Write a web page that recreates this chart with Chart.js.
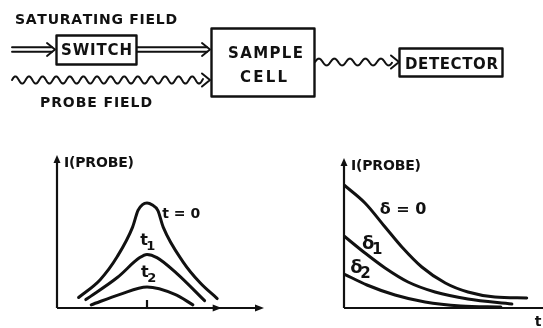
<!DOCTYPE html>
<html>
<head>
<meta charset="utf-8">
<script src="https://cdn.jsdelivr.net/npm/chart.js@4/dist/chart.umd.min.js"></script>
<style>
  html, body { margin: 0; padding: 0; background: #fff; }
  #wrap { position: relative; width: 543px; height: 328px; overflow: hidden; background: #fff; }
  canvas { position: absolute; }
</style>
</head>
<body>
<div id="wrap">
  <canvas id="diagram" width="543" height="140" style="left:0;top:0"></canvas>
  <canvas id="lineShape" width="280" height="188" style="left:0;top:140px"></canvas>
  <canvas id="decay" width="263" height="188" style="left:280px;top:140px"></canvas>
</div>
<script>
// --- Data: left panel, probe intensity vs detuning at t = 0, t1, t2 ---
const detuningT0 = [-0.76, -0.52, -0.33, -0.16, -0.1, -0.05, 0, 0.06, 0.12, 0.18, 0.4, 0.59, 0.78];
const probeT0    = [0.10, 0.27, 0.49, 0.77, 0.93, 0.985, 1.0, 0.98, 0.93, 0.77, 0.44, 0.24, 0.09];
const detuningT1 = [-0.68, -0.33, -0.08, 0, 0.11, 0.33, 0.64];
const probeT1    = [0.08, 0.29, 0.48, 0.51, 0.48, 0.33, 0.07];
const detuningT2 = [-0.62, -0.3, 0, 0.31, 0.51];
const probeT2    = [0.03, 0.13, 0.2, 0.13, 0.03];

// --- Data: right panel, probe intensity vs time at delta = 0, delta1, delta2 ---
const timeD0  = [0, 0.116, 0.227, 0.32, 0.43, 0.56, 0.685, 0.834, 1.01];
const probeD0 = [1.23, 1.05, 0.81, 0.61, 0.41, 0.25, 0.16, 0.11, 0.10];
const timeD1  = [0, 0.116, 0.227, 0.354, 0.503, 0.685, 0.928];
const probeD1 = [0.72, 0.55, 0.40, 0.26, 0.16, 0.09, 0.04];
const timeD2  = [0, 0.127, 0.282, 0.448, 0.646, 0.867];
const probeD2 = [0.34, 0.23, 0.13, 0.06, 0.02, 0.01];

// --- Text ---
const AXIS_Y_LABEL = 'I(PROBE)';
const AXIS_X_LEFT = 'PROBE DETUNING,';
const AXIS_X_RIGHT = 't';

const INK = '#111';
const FONT = '"DejaVu Sans", sans-serif';

// --- Drawing helpers ---
function spaced(ctx, str, x0, x1, base, size) {
  ctx.font = 'bold ' + size + 'px ' + FONT;
  const chars = [...str];
  const widths = chars.map(c => ctx.measureText(c).width);
  const total = widths.reduce((s, w) => s + w, 0);
  const gap = chars.length > 1 ? (x1 - x0 - total) / (chars.length - 1) : 0;
  let x = x0;
  chars.forEach((c, i) => { ctx.fillText(c, x, base); x += widths[i] + gap; });
}
function seg(ctx, xa, ya, xb, yb) {
  ctx.beginPath(); ctx.moveTo(xa, ya); ctx.lineTo(xb, yb); ctx.stroke();
}
function chevron(ctx, tip, y, len, half) {
  ctx.beginPath();
  ctx.moveTo(tip - len, y - half); ctx.lineTo(tip, y); ctx.lineTo(tip - len, y + half);
  ctx.stroke();
}
function doubleArrow(ctx, x0, tip, y) {
  seg(ctx, x0, y - 2.2, tip - 3, y - 2.2);
  seg(ctx, x0, y + 2.2, tip - 3, y + 2.2);
  chevron(ctx, tip, y, 8, 6.5);
}
function wave(ctx, x0, x1, yc, amp, period) {
  ctx.beginPath();
  for (let x = x0; x <= x1; x += 0.5) {
    const y = yc - amp * Math.sin((x - x0) / period * 2 * Math.PI);
    if (x === x0) ctx.moveTo(x, y); else ctx.lineTo(x, y);
  }
  ctx.stroke();
}
function filledHead(ctx, x, y, dir) {
  ctx.beginPath();
  if (dir === 'up') { ctx.moveTo(x, y); ctx.lineTo(x - 3.5, y + 8); ctx.lineTo(x + 3.5, y + 8); }
  else { ctx.moveTo(x, y); ctx.lineTo(x - 9, y - 3.5); ctx.lineTo(x - 9, y + 3.5); }
  ctx.closePath(); ctx.fill();
}

// --- Block diagram ---
const blockDiagram = {
  id: 'blockDiagram',
  afterDraw(chart) {
    const ctx = chart.ctx;
    ctx.save();
    ctx.strokeStyle = INK; ctx.fillStyle = INK;
    ctx.lineWidth = 2.4; ctx.lineJoin = 'round'; ctx.lineCap = 'round';
    ctx.textBaseline = 'alphabetic';

    spaced(ctx, 'SATURATING FIELD', 15, 177, 23.5, 14);
    spaced(ctx, 'PROBE FIELD', 40, 152, 106.5, 14);

    ctx.strokeRect(56.5, 35.5, 80, 29);
    spaced(ctx, 'SWITCH', 61, 132, 55, 15);
    ctx.strokeRect(211.5, 28.5, 103, 68);
    spaced(ctx, 'SAMPLE', 228, 303, 58, 15);
    spaced(ctx, 'CELL', 240, 287, 82, 15);
    ctx.strokeRect(399.5, 48.5, 103, 28);
    spaced(ctx, 'DETECTOR', 405, 498, 68.5, 15);

    ctx.lineWidth = 1.9;
    doubleArrow(ctx, 12, 55, 49.5);
    doubleArrow(ctx, 137, 210, 49.5);
    ctx.lineWidth = 2;
    wave(ctx, 12, 203, 80, 3.6, 13.6);
    chevron(ctx, 210, 80, 8, 6.5);
    wave(ctx, 315, 392, 62, 3.4, 15.5);
    chevron(ctx, 399, 62, 8, 6.5);
    ctx.restore();
  }
};

// --- Axes with arrows and curve labels for the two panels ---
const panelAxes = {
  id: 'panelAxes',
  afterDatasetsDraw(chart, args, opts) {
    const { ctx, chartArea: a, scales: { x, y } } = chart;
    const x0 = x.getPixelForValue(x.min);
    const y0 = y.getPixelForValue(0);
    ctx.save();
    ctx.strokeStyle = INK; ctx.fillStyle = INK; ctx.lineWidth = 2.2;
    seg(ctx, x0, y0, x0, a.top + 6);
    filledHead(ctx, x0, a.top, 'up');
    if (opts.arrowRight) {
      seg(ctx, x0, y0, a.right - 6, y0);
      filledHead(ctx, a.right, y0, 'right');
      (opts.extraHeads || []).forEach(v => filledHead(ctx, x.getPixelForValue(v), y0, 'right'));
    } else {
      seg(ctx, x0, y0, a.right + 2, y0);
    }
    if (opts.tickAt !== undefined) {
      const tx = x.getPixelForValue(opts.tickAt);
      seg(ctx, tx, y0, tx, y0 - 8);
    }
    ctx.textBaseline = 'alphabetic';
    spaced(ctx, AXIS_Y_LABEL, x0 + 7, x0 + 77, a.top + 12, 14);
    (opts.labels || []).forEach(l => {
      const px = x.getPixelForValue(l.x), py = y.getPixelForValue(l.y);
      ctx.font = 'bold ' + l.size + 'px ' + FONT;
      ctx.textAlign = 'center';
      const w = ctx.measureText(l.text).width;
      if (l.sub) {
        ctx.fillText(l.text, px - 3, py + 5);
        ctx.font = 'bold ' + (l.size - 3) + 'px ' + FONT;
        ctx.fillText(l.sub, px - 3 + w / 2 + 3, py + 10);
      } else {
        ctx.fillText(l.text, px, py + 5);
      }
    });
    ctx.restore();
    if (opts.afterText) opts.afterText(ctx, a, x0, y0);
  }
};

function curve(xs, ys) {
  return {
    data: xs.map((v, i) => ({ x: v, y: ys[i] })),
    borderColor: INK, borderWidth: 3, pointRadius: 0, showLine: true,
    tension: 0.4, cubicInterpolationMode: 'monotone', fill: false,
    borderCapStyle: 'round'
  };
}
const hidden = { display: false };
const baseOpts = { responsive: false, animation: false, devicePixelRatio: 1, events: [],
  plugins: { legend: hidden, tooltip: { enabled: false } } };

new Chart(document.getElementById('diagram'), {
  type: 'scatter',
  data: { datasets: [] },
  options: { ...baseOpts, scales: { x: hidden, y: hidden } },
  plugins: [blockDiagram]
});

new Chart(document.getElementById('lineShape'), {
  type: 'scatter',
  data: { datasets: [curve(detuningT0, probeT0), curve(detuningT1, probeT1), curve(detuningT2, probeT2)] },
  options: {
    ...baseOpts,
    layout: { padding: { left: 57, right: 16, top: 15, bottom: 20 } },
    scales: { x: { display: false, min: -1, max: 1.3 }, y: { display: false, min: 0, max: 1.457 } },
    plugins: {
      ...baseOpts.plugins,
      panelAxes: {
        arrowRight: true, extraHeads: [0.83], tickAt: 0,
        labels: [
          { text: 't = 0', x: 0.38, y: 0.9, size: 14 },
          { text: 't', sub: '1', x: 0, y: 0.65, size: 16 },
          { text: 't', sub: '2', x: 0.01, y: 0.34, size: 16 }
        ],
        afterText(ctx, a, x0, y0) {
          ctx.save(); ctx.fillStyle = INK; ctx.textBaseline = 'alphabetic';
          spaced(ctx, AXIS_X_LEFT, 96, 238, 326.5, 14);
          ctx.font = '18px ' + FONT;
          ctx.fillText('\u03b4', 240, 326.5);
          ctx.restore();
        }
      }
    }
  },
  plugins: [panelAxes]
});

new Chart(document.getElementById('decay'), {
  type: 'scatter',
  data: { datasets: [curve(timeD0, probeD0), curve(timeD1, probeD1), curve(timeD2, probeD2)] },
  options: {
    ...baseOpts,
    layout: { padding: { left: 64, right: 0, top: 18, bottom: 20 } },
    scales: { x: { display: false, min: 0, max: 1.1 }, y: { display: false, min: 0, max: 1.5 } },
    plugins: {
      ...baseOpts.plugins,
      panelAxes: {
        arrowRight: false,
        labels: [
          { text: '\u03b4 = 0', x: 0.326, y: 0.99, size: 16 },
          { text: '\u03b4', sub: '1', x: 0.15, y: 0.64, size: 18 },
          { text: '\u03b4', sub: '2', x: 0.085, y: 0.40, size: 18 }
        ],
        afterText(ctx, a, x0, y0) {
          ctx.save(); ctx.fillStyle = INK; ctx.textBaseline = 'alphabetic';
          ctx.font = 'bold 14px ' + FONT; ctx.textAlign = 'center';
          ctx.fillText(AXIS_X_RIGHT, 258, y0 + 18);
          ctx.restore();
        }
      }
    }
  },
  plugins: [panelAxes]
});
</script>
</body>
</html>
